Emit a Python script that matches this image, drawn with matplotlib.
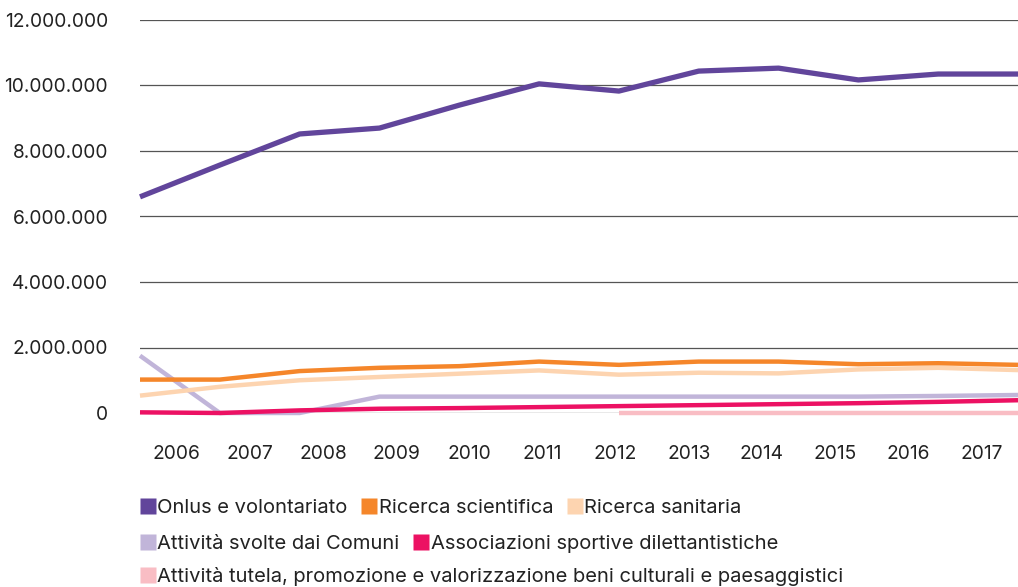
import numpy as np
import matplotlib.pyplot as plt
from matplotlib.lines import Line2D

plt.rcParams['font.family'] = ['Inter', 'DejaVu Sans']

years = ['2006', '2007', '2008', '2009', '2010', '2011',
         '2012', '2013', '2014', '2015', '2016', '2017']

onlus = [6.6, 7.57, 8.52, 8.7, 9.4, 10.05, 9.83, 10.44, 10.53, 10.17, 10.35, 10.35]
ric_scient = [1.02, 1.02, 1.28, 1.38, 1.43, 1.57, 1.47, 1.57, 1.57, 1.49, 1.52, 1.47]
ric_sanit = [0.53, 0.8, 1.0, 1.1, 1.2, 1.3, 1.17, 1.23, 1.21, 1.33, 1.38, 1.31]
comuni = [1.75, 0.0, 0.0, 0.5, 0.5, 0.5, 0.5, 0.5, 0.5, 0.5, 0.52, 0.55]
sportive = [0.02, 0.0, 0.08, 0.13, 0.15, 0.18, 0.21, 0.24, 0.27, 0.3, 0.34, 0.39]
tutela = [None, None, None, None, None, None, 0.0, 0.0, 0.0, 0.0, 0.0, 0.0]

names = ['Onlus e volontariato', 'Ricerca scientifica', 'Ricerca sanitaria',
         'Attività svolte dai Comuni', 'Associazioni sportive dilettantistiche',
         'Attività tutela, promozione e valorizzazione beni culturali e paesaggistici']
colors = ['#61459b', '#f5862a', '#fdd4b0', '#c1b5d9', '#ec1163', '#f9bdc4']
series = [onlus, ric_scient, ric_sanit, comuni, sportive, tutela]

fig = plt.figure(figsize=(10.18, 5.87), dpi=100)
ax = fig.add_axes([140/1018, 1-413/587, 1-140/1018, (413-20)/587])

x = np.arange(len(years))
order = [5, 3, 2, 1, 4, 0]
for i in order:
    vals = np.array([np.nan if v is None else v for v in series[i]]) * 1e6
    lw = 3.8 if i == 0 else 3.2
    ax.plot(x, vals, color=colors[i], lw=lw, clip_on=False, zorder=3 + (i == 0),
            solid_capstyle='butt')

ax.set_xlim(0, 11)
ax.set_ylim(0, 12e6)
yt = np.arange(0, 12.1e6, 2e6)
ax.set_yticks(yt)
ax.set_yticklabels(['0' if v == 0 else f'{int(v):,}'.replace(',', '.') for v in yt])
ax.yaxis.grid(True, color='#555555', lw=0.9)
ax.set_axisbelow(True)
ax.set_xticks([(i + 0.5) * 11 / 12 for i in range(12)])
ax.set_xticklabels(years)
ax.tick_params(axis='y', length=0, pad=23, labelsize=13.8, labelcolor='#222222')
ax.tick_params(axis='x', length=0, pad=23, labelsize=13.8, labelcolor='#222222')
for s in ax.spines.values():
    s.set_visible(False)

rows = [[0, 1, 2], [3, 4], [5]]
ys = [508, 544, 577]
for r, yy in zip(rows, ys):
    handles = [Line2D([], [], ls='none', marker='s', markersize=11,
                      markerfacecolor=colors[i], markeredgecolor='none') for i in r]
    leg = fig.legend(handles, [names[i] for i in r], ncol=len(r), frameon=False,
                     loc='center left', bbox_to_anchor=(140/1018, 1 - yy/587),
                     fontsize=14.5, handlelength=0.75, handletextpad=0.1,
                     columnspacing=0.7, borderpad=0, borderaxespad=0)
    for t in leg.get_texts():
        t.set_color('#222222')

fig.savefig('out.png', dpi=100)
